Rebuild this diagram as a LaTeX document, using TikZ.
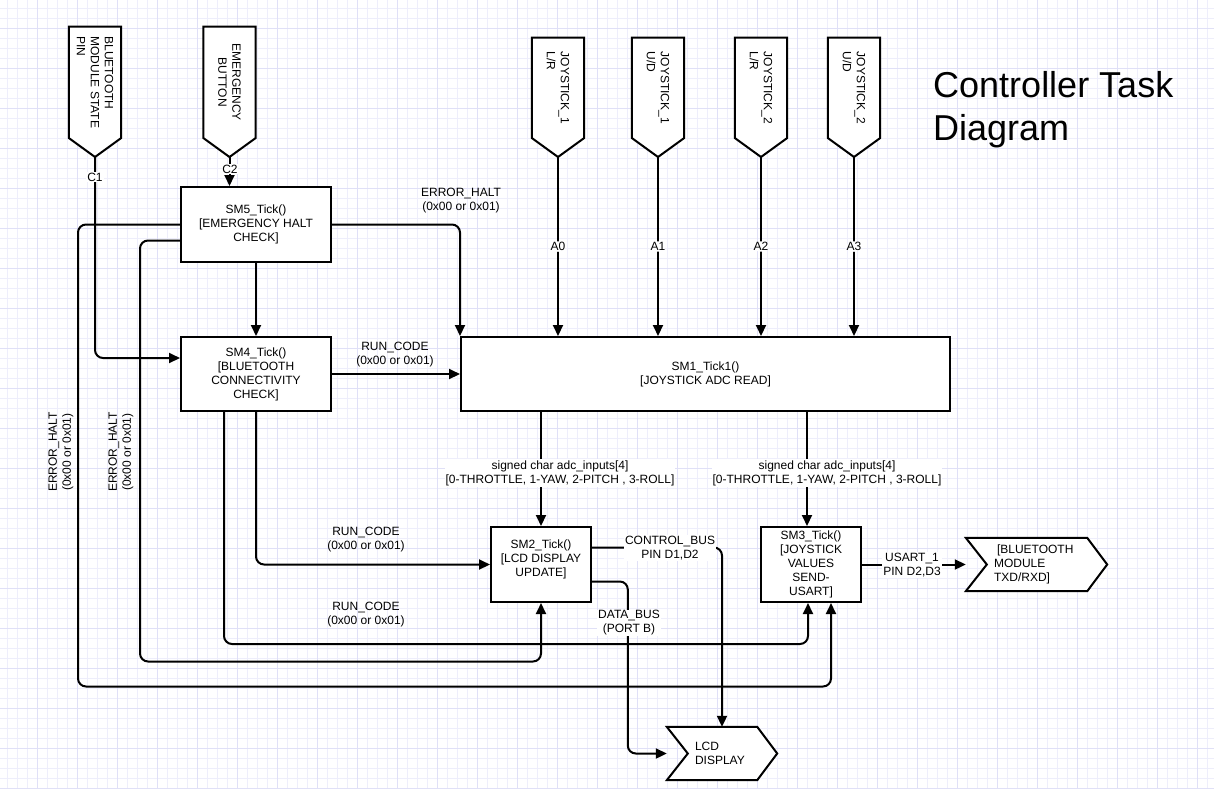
\documentclass[tikz,border=0pt]{standalone}
\usepackage{fontspec}
\setmainfont{Liberation Sans}
\usepackage{tikz}
\usetikzlibrary{arrows.meta}
\definecolor{gridMinorColor}{RGB}{238,238,251}
\definecolor{gridMajorColor}{RGB}{224,224,247}
\newcommand{\labelFont}{\fontsize{12}{14}\selectfont}
\tikzstyle{diagram} = [x = 1pt, y = -1pt]
\tikzstyle{gridMinor} = [color=gridMinorColor, line width=1pt]
\tikzstyle{gridMajor} = [color=gridMajorColor, line width=1pt]
\tikzstyle{taskBox} = [draw, fill=white, line width=2pt, align=center, inner sep=1pt, font=\labelFont]
\tikzstyle{pinBox} = [inner sep=0, minimum width=52pt, anchor=south]
\tikzstyle{stepBox} = [inner sep=0]
\tikzstyle{shapeLine} = [draw=black, fill=white, line width=2pt]
\tikzstyle{pinText} = [rotate=-90, font=\labelFont, inner sep=0]
\tikzstyle{flowLine} = [line width=2pt, rounded corners=8pt, -{Triangle[length=11pt, width=10pt]}]
\tikzstyle{edgeLabel} = [fill=white, align=center, inner sep=1pt, font=\labelFont]
\tikzstyle{freeLabel} = [align=center, inner sep=0, font=\labelFont]
\tikzstyle{titleText} = [anchor=north west, align=left, inner sep=0, font=\fontsize{36}{43}\selectfont]
\newcommand{\paperGrid}[2]{
  \foreach \gx in {7,17,...,#1} {\draw [gridMinor] (\gx,0) -- (\gx,#2);}
  \foreach \gy in {8,18,...,#2} {\draw [gridMinor] (0,\gy) -- (#1,\gy);}
  \foreach \gx in {37,77,...,#1} {\draw [gridMajor] (\gx,0) -- (\gx,#2);}
  \foreach \gy in {28,68,...,#2} {\draw [gridMajor] (0,\gy) -- (#1,\gy);}
}
% name, x of the tip, height, alignment, text
\newcommand{\inputPin}[5]{
  \node [pinBox, minimum height=#3] (#1) at (#2,157) {};
  \filldraw [shapeLine] (#1.north west) -- (#1.north east) -- ([yshift=19pt]#1.south east) -- (#1.south) -- ([yshift=19pt]#1.south west) -- cycle;
  \node [pinText, align=#4] (#1Text) at ([yshift=9.5pt]#1.center) {#5};
}
\newcommand{\stepShape}[1]{
  \filldraw [shapeLine] (#1.north west) -- ([xshift=-20pt]#1.north east) -- (#1.east) -- ([xshift=-20pt]#1.south east) -- (#1.south west) -- ([xshift=21pt]#1.west) -- cycle;
}
\begin{document}
\begin{tikzpicture}[diagram]
\useasboundingbox (0,0) rectangle (1214,788);
\paperGrid{1214}{788}
% input pins
\inputPin{btPin}{95}{130pt}{left}{BLUETOOTH\\MODULE STATE\\PIN}
\inputPin{emPin}{229.5}{130pt}{center}{EMERGENCY\\BUTTON}
\inputPin{joyOneLR}{558}{119pt}{left}{JOYSTICK\_1\\L/R}
\inputPin{joyOneUD}{658}{119pt}{left}{JOYSTICK\_1\\U/D}
\inputPin{joyTwoLR}{761}{119pt}{left}{JOYSTICK\_2\\L/R}
\inputPin{joyTwoUD}{854}{119pt}{left}{JOYSTICK\_2\\U/D}
\node [titleText] (title) at (933,71) {Controller Task\\Diagram};
% tasks
\node [taskBox, minimum width=150pt, minimum height=75pt] (sm5) at (256,224.5) {SM5\_Tick()\\{}[EMERGENCY HALT\\CHECK]};
\node [taskBox, minimum width=150pt, minimum height=74pt] (sm4) at (256,374) {SM4\_Tick()\\{}[BLUETOOTH\\CONNECTIVITY\\CHECK]};
\node [taskBox, minimum width=489pt, minimum height=74pt] (sm1) at (705.5,374) {SM1\_Tick1()\\{}[JOYSTICK ADC READ]};
\node [taskBox, minimum width=100pt, minimum height=75pt, text depth=12pt] (sm2) at (541,564.5) {SM2\_Tick()\\{}[LCD DISPLAY\\UPDATE]};
\node [taskBox, minimum width=100pt, minimum height=75pt] (sm3) at (811,564.5) {SM3\_Tick()\\{}[JOYSTICK\\VALUES\\SEND-\\USART]};
% outputs
\node [stepBox, minimum width=110pt, minimum height=53pt] (lcd) at (722,753.5) {};
\stepShape{lcd}
\node [freeLabel, anchor=west, align=left] (lcdText) at ([xshift=28pt]lcd.west) {LCD\\DISPLAY};
\node [stepBox, minimum width=141pt, minimum height=53pt] (bt) at (1036.5,564.5) {};
\stepShape{bt}
\node [freeLabel, anchor=west, align=left] (btText) at ([xshift=28pt]bt.west) {\hspace*{3pt}[BLUETOOTH\\MODULE\\TXD/RXD]};
% connectors
\draw [flowLine] (emPin.south) -- (emPin.south |- sm5.north);
\draw [flowLine] (btPin.south) |- ([yshift=16pt]sm4.west);
\draw [flowLine] (sm5.south) -- (sm4.north);
\draw [flowLine] (sm5.east) -| (sm1.north west);
\draw [flowLine] (sm4.east) -- (sm4.east -| sm1.west);
\draw [flowLine] (joyOneLR.south) -- (joyOneLR.south |- sm1.north) node [edgeLabel, pos=0.5] (labA0) {A0};
\draw [flowLine] (joyOneUD.south) -- (joyOneUD.south |- sm1.north) node [edgeLabel, pos=0.5] (labA1) {A1};
\draw [flowLine] (joyTwoLR.south) -- (joyTwoLR.south |- sm1.north) node [edgeLabel, pos=0.5] (labA2) {A2};
\draw [flowLine] (joyTwoUD.south) -- (joyTwoUD.south |- sm1.north) node [edgeLabel, pos=0.5] (labA3) {A3};
\draw [flowLine] (sm2.north |- sm1.south) -- (sm2.north);
\draw [flowLine] ([xshift=-4pt]sm3.north |- sm1.south) -- ([xshift=-4pt]sm3.north);
\draw [flowLine] ([yshift=17pt]sm2.east) -| (lcd.north);
\draw [flowLine] ([yshift=-17pt]sm2.east) -| ([xshift=-39pt]lcd.west) -- (lcd.west);
\draw [flowLine] (sm3.east) -- (bt.west);
\draw [flowLine] (sm4.south) |- (sm2.west);
\draw [flowLine] ([xshift=-32pt]sm4.south) -- ++(0,232) -| ([xshift=-3pt]sm3.south);
\draw [flowLine] ([yshift=-16pt]sm5.west) -| ++(-40,421) -| (sm2.south);
\draw [flowLine] (sm5.west) -| ++(-102,462) -| ([xshift=20pt]sm3.south);
% labels
\node [edgeLabel] (pinLabelA) at (95,177) {C1};
\node [edgeLabel, inner sep=0.5pt] (pinLabelB) at (230,169) {C2};
\node [freeLabel] (haltLabelC) at (461,201) {ERROR\_HALT\\(0x00 or 0x01)};
\node [freeLabel] (runLabelA) at (395,355) {RUN\_CODE\\(0x00 or 0x01)};
\node [freeLabel, rotate=90] (haltLabelA) at (61,452) {ERROR\_HALT\\(0x00 or 0x01)};
\node [freeLabel, rotate=90] (haltLabelB) at (121,452) {ERROR\_HALT\\(0x00 or 0x01)};
\node [edgeLabel] (adcLabelA) at (560,473) {signed char adc\_inputs[4]\\{}[0-THROTTLE, 1-YAW, 2-PITCH , 3-ROLL]};
\node [edgeLabel] (adcLabelB) at (827,473) {signed char adc\_inputs[4]\\{}[0-THROTTLE, 1-YAW, 2-PITCH , 3-ROLL]};
\node [freeLabel] (runLabelB) at (366,540) {RUN\_CODE\\(0x00 or 0x01)};
\node [freeLabel] (runLabelC) at (366,615) {RUN\_CODE\\(0x00 or 0x01)};
\node [edgeLabel] (ctrlLabel) at (670,548) {CONTROL\_BUS\\PIN D1,D2};
\node [edgeLabel] (dataLabel) at (629,623) {DATA\_BUS\\(PORT B)};
\node [edgeLabel] (usartLabel) at (912,565) {USART\_1\\PIN D2,D3};
\end{tikzpicture}
\end{document}
